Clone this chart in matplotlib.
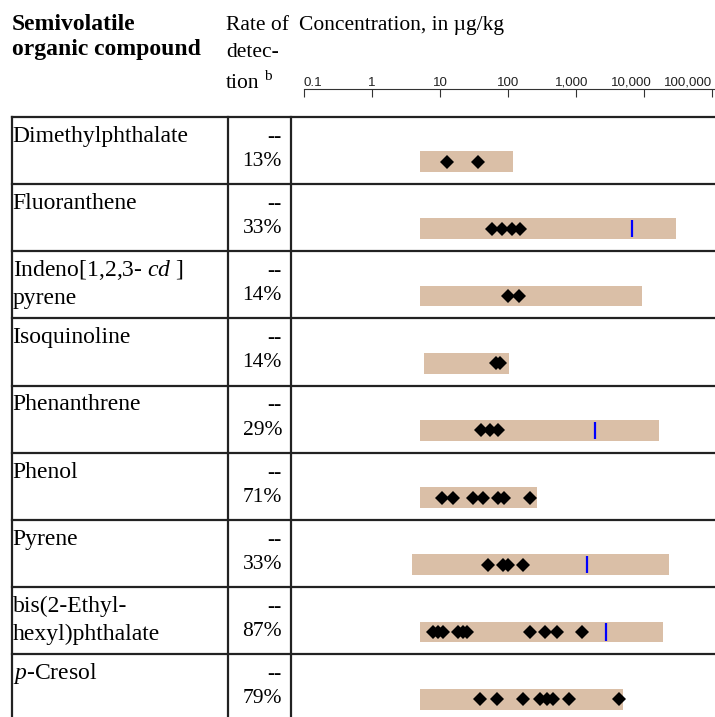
import numpy as np
import matplotlib
matplotlib.use("Agg")
import matplotlib.pyplot as plt
from matplotlib.lines import Line2D

plt.rcParams["font.family"] = "Liberation Serif"
plt.rcParams["mathtext.fontset"] = "custom"
plt.rcParams["mathtext.rm"] = "Liberation Serif"
plt.rcParams["mathtext.it"] = "Liberation Serif:italic"

# data
compounds = [
    "Dimethylphthalate",
    "Fluoranthene",
    "Indeno[1,2,3- $cd$ ]\npyrene",
    "Isoquinoline",
    "Phenanthrene",
    "Phenol",
    "Pyrene",
    "bis(2-Ethyl-\nhexyl)phthalate",
    "$p$-Cresol",
]
detection_rate = ["13%", "33%", "14%", "14%", "29%", "71%", "33%", "87%", "79%"]
range_low = [5, 5, 5, 5.8, 5, 5, 3.9, 5, 5]
range_high = [120, 30000, 9300, 103, 16600, 265, 23500, 19000, 5000]
benchmark = [np.nan, 6630, np.nan, np.nan, 1890, np.nan, 1440, 2770, np.nan]
detects = [
    [12.6, 36],
    [57.5, 81, 113, 150],
    [101, 144],
    [66, 76],
    [40, 54, 71],
    [10.6, 15.3, 31, 43, 72, 88, 211],
    [51, 85, 101, 164],
    [7.8, 9.4, 11.1, 18.5, 22, 24.6, 211, 351, 521, 1220],
    [38.7, 68, 168, 296, 371, 465, 800, 4360],
]
tick_values = [0.1, 1, 10, 100, 1000, 10000, 100000]
tick_labels = ["0.1", "1", "10", "100", "1,000", "10,000", "100,000"]

W, H = 715, 717
fig = plt.figure(figsize=(W / 100, H / 100), dpi=100)


def fx(x):
    return x / W


def fy(y):
    return 1 - y / H


# layout in pixels
table_top = 116.7
row_h = 67.2
col_x = [12, 228, 291]
x0_px, decade_px = 304.3, 67.9  # position of 0.1 and width of one decade
xmin = 10 ** ((col_x[2] - x0_px) / decade_px - 1)
xmax = 10 ** ((W - x0_px) / decade_px - 1)

bar_color = "#dabfa7"
line_color = "#222222"

# main plotting area
ax = fig.add_axes([fx(col_x[2]), 0, fx(W - col_x[2]), (H - table_top) / H])
ax.set_xscale("log")
ax.set_xlim(xmin, xmax)
ax.set_ylim((H - table_top) / row_h, 0)
ax.axis("off")

for i in range(len(compounds)):
    yc = i + 0.667
    ax.barh(yc, range_high[i] - range_low[i], left=range_low[i], height=0.31,
            color=bar_color, zorder=1)
    ax.plot(detects[i], [yc] * len(detects[i]), linestyle="none", marker="D",
            markersize=7, color="black", markeredgewidth=0, zorder=3)
    if not np.isnan(benchmark[i]):
        ax.vlines(benchmark[i], yc - 0.13, yc + 0.13, color="blue", lw=1.6, zorder=2)

# header scale
axh = fig.add_axes([fx(col_x[2]), fy(97), fx(W - col_x[2]), 8 / H])
axh.set_xscale("log")
axh.set_xlim(xmin, xmax)
axh.set_ylim(0, 1)
for side in ["left", "right", "bottom"]:
    axh.spines[side].set_visible(False)
axh.spines["top"].set_bounds(0.1, xmax)
axh.spines["top"].set_linewidth(0.8)
axh.spines["top"].set_color("#333333")
axh.set_yticks([])
axh.xaxis.set_ticks_position("top")
axh.set_xticks(tick_values)
axh.xaxis.set_minor_locator(matplotlib.ticker.NullLocator())
axh.tick_params(axis="x", direction="in", length=5.8, width=0.8, color="#333333",
                labeltop=False, labelbottom=False)
axh.patch.set_alpha(0)

label_ha = ["left", "center", "center", "center", "center", "right", "right"]
label_dx = [-0.7, 0, 0, 0, -3, 5.5, 0]
for v, lbl, ha, dx in zip(tick_values, tick_labels, label_ha, label_dx):
    axh.annotate(lbl, (v, 1), xycoords=("data", "axes fraction"),
                 xytext=(dx, 2.2), textcoords="offset points",
                 ha=ha, va="baseline", fontsize=9.6, family="Liberation Sans",
                 color="#222222")

# table lines
for i in range(len(compounds)):
    y = table_top + i * row_h
    fig.add_artist(Line2D([fx(col_x[0]), 1], [fy(y), fy(y)], color=line_color, lw=1.6))
for x in col_x:
    fig.add_artist(Line2D([fx(x), fx(x)], [fy(table_top), 0], color=line_color, lw=1.6))

# header text
body = 15.5
fig.text(fx(12), fy(30), "Semivolatile", fontsize=17, fontweight="bold", va="baseline")
fig.text(fx(12), fy(55), "organic compound", fontsize=17, fontweight="bold", va="baseline")
fig.text(fx(226), fy(30), "Rate of", fontsize=body, va="baseline")
fig.text(fx(226), fy(57), "detec-", fontsize=body, va="baseline")
fig.text(fx(226), fy(88), "tion", fontsize=body, va="baseline")
fig.text(fx(264), fy(80), "b", fontsize=11, va="baseline")
fig.text(fx(299), fy(30), "Concentration, in \u00b5g/kg", fontsize=body, va="baseline")

# row text
for i, (name, rate) in enumerate(zip(compounds, detection_rate)):
    top = table_top + i * row_h
    for j, line in enumerate(name.split("\n")):
        fig.text(fx(12.5), fy(top + 25 + 28 * j), line, fontsize=17, va="baseline")
    fig.text(fx(282), fy(top + 25), "--", fontsize=body, va="baseline", ha="right")
    fig.text(fx(282), fy(top + 49), rate, fontsize=body, va="baseline", ha="right")

fig.savefig("out.png", dpi=100)
